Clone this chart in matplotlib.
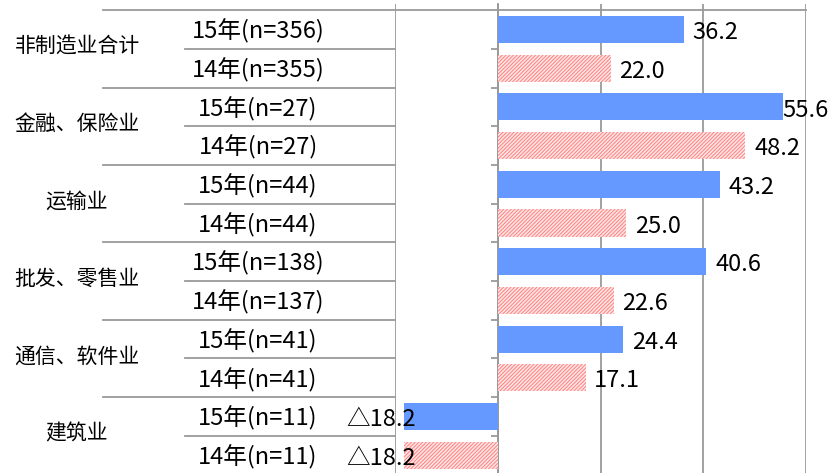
import numpy as np
import matplotlib
matplotlib.use('Agg')
import matplotlib.pyplot as plt
from matplotlib.transforms import blended_transform_factory

# data
categories = ['非制造业合计', '金融、保险业', '运输业', '批发、零售业', '通信、软件业', '建筑业']
n15 = [356, 27, 44, 138, 41, 11]
n14 = [355, 27, 44, 137, 41, 11]
v15 = [36.2, 55.6, 43.2, 40.6, 24.4, -18.2]
v14 = [22.0, 48.2, 25.0, 22.6, 17.1, -18.2]

plt.rcParams['font.family'] = ['Noto Sans CJK SC', 'DejaVu Sans']
plt.rcParams['hatch.linewidth'] = 1.2

W, H = 838, 473
fig = plt.figure(figsize=(W / 100, H / 100), dpi=100)
ax = fig.add_axes([395 / W, 0, (806 - 395) / W, 1 - 4 / H])

grid_c = '#9a9a9a'
y15 = np.arange(len(categories)) * 2
y14 = y15 + 1

ax.barh(y15, v15, height=0.7, color='#6699FF', zorder=3)
ax.barh(y14, v14, height=0.7, color='#FF7E7E', edgecolor='#FFE4E4',
        hatch='/' * 9, linewidth=0, zorder=3)

ax.set_xlim(-20, 60)
ax.set_ylim(11.46, -0.66)
ax.set_xticks([-20, 0, 20, 40, 60])
ax.xaxis.grid(True, color=grid_c, lw=1.3, zorder=0)
ax.tick_params(axis='x', length=0, labelbottom=False)
for s in ['top', 'right', 'bottom']:
    ax.spines[s].set_visible(False)
ax.spines['left'].set_position(('data', 0))
ax.spines['left'].set_color(grid_c)
ax.spines['left'].set_linewidth(1.3)
ax.set_yticks(np.arange(0.5, 11, 1.0))
ax.tick_params(axis='y', length=5, width=1.3, color=grid_c, labelleft=False, direction='out')

# left-hand table
trans = blended_transform_factory(fig.transFigure, ax.transData)
ax.plot([103 / W, 806 / W], [-0.5, -0.5], color=grid_c, lw=1.3, transform=trans, clip_on=False)
for i in range(len(categories)):
    if i > 0:
        ax.plot([103 / W, 395 / W], [2 * i - 0.5] * 2, color=grid_c, lw=1.3,
                transform=trans, clip_on=False)
    ax.plot([185 / W, 395 / W], [2 * i + 0.5] * 2, color=grid_c, lw=1.3,
            transform=trans, clip_on=False)
    ax.text(77 / W, 2 * i + 0.45, categories[i], transform=trans,
            ha='center', va='center', fontsize=15)
    ax.text(258 / W, y15[i] + 0.05, f'15年(n={n15[i]})', transform=trans,
            ha='center', va='center', fontsize=17)
    ax.text(258 / W, y14[i] + 0.05, f'14年(n={n14[i]})', transform=trans,
            ha='center', va='center', fontsize=17)

# value labels
for ys, vs in [(y15, v15), (y14, v14)]:
    for y, v in zip(ys, vs):
        if v >= 0:
            ax.text(min(v + 1.7, 55.3), y + 0.08, f'{v:.1f}', ha='left', va='center',
                    fontsize=17, zorder=5)
        else:
            ax.text(-16, y + 0.08, f'△{abs(v):.1f}', ha='right', va='center',
                    fontsize=17, zorder=5)

fig.savefig('out.png', dpi=100)
